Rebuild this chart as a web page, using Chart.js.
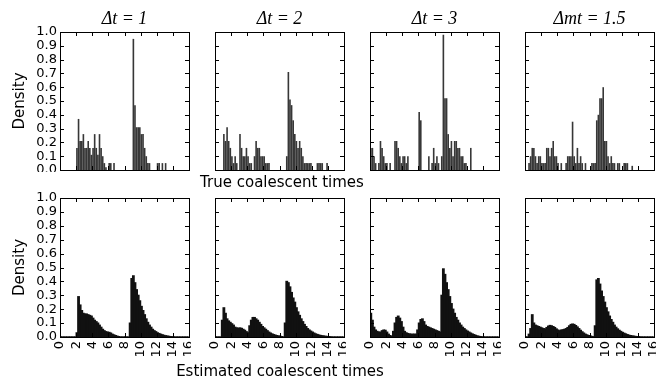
<!DOCTYPE html>
<html>
<head>
<meta charset="utf-8">
<script src="https://cdn.jsdelivr.net/npm/chart.js"></script>
<style>
  html, body { margin: 0; padding: 0; background: #fff; overflow: hidden; }
  #wrap { position: relative; width: 656px; height: 380px; }
  canvas { position: absolute; }
  .xlabel { position: absolute; font: 15px/15px "DejaVu Sans"; color: #000; white-space: nowrap; transform: translateX(-50%); }
</style>
</head>
<body>
<div id="wrap">
  <canvas id="t1"></canvas>
  <canvas id="t2"></canvas>
  <canvas id="t3"></canvas>
  <canvas id="t4"></canvas>
  <canvas id="b1"></canvas>
  <canvas id="b2"></canvas>
  <canvas id="b3"></canvas>
  <canvas id="b4"></canvas>
  <div class="xlabel" style="left:282px; top:175px">True coalescent times</div>
  <div class="xlabel" style="left:280px; top:364px">Estimated coalescent times</div>
</div>
<script>
// histogram bin centres (bin width 0.2)
const bins = [
  0.1, 0.3, 0.5, 0.7, 0.9, 1.1, 1.3, 1.5, 1.7, 1.9,
  2.1, 2.3, 2.5, 2.7, 2.9, 3.1, 3.3, 3.5, 3.7, 3.9,
  4.1, 4.3, 4.5, 4.7, 4.9, 5.1, 5.3, 5.5, 5.7, 5.9,
  6.1, 6.3, 6.5, 6.7, 6.9, 7.1, 7.3, 7.5, 7.7, 7.9,
  8.1, 8.3, 8.5, 8.7, 8.9, 9.1, 9.3, 9.5, 9.7, 9.9,
  10.1, 10.3, 10.5, 10.7, 10.9, 11.1, 11.3, 11.5, 11.7, 11.9,
  12.1, 12.3, 12.5, 12.7, 12.9, 13.1, 13.3, 13.5, 13.7, 13.9,
  14.1, 14.3, 14.5, 14.7, 14.9, 15.1, 15.3, 15.5, 15.7, 15.9
];

const titles = ['Δt = 1', 'Δt = 2', 'Δt = 3', 'Δmt = 1.5'];

// true coalescent times
const true1 = [
  0, 0, 0, 0, 0, 0, 0, 0, 0, 0,
  0.16, 0.37, 0.21, 0.21, 0.26, 0.16, 0.16, 0.21, 0.16, 0.11,
  0.16, 0.26, 0.16, 0.11, 0.26, 0.16, 0.10, 0.05, 0.02, 0,
  0.05, 0.05, 0, 0.05, 0, 0, 0, 0, 0, 0,
  0, 0, 0, 0, 0, 0.95, 0.47, 0.31, 0.31, 0.31,
  0.26, 0.26, 0.16, 0.10, 0.05, 0.05, 0, 0, 0, 0,
  0.05, 0.05, 0, 0.05, 0, 0.05, 0, 0, 0, 0,
  0, 0, 0, 0, 0, 0, 0, 0, 0, 0
];
const true2 = [
  0, 0, 0, 0, 0, 0.26, 0.21, 0.31, 0.21, 0.16,
  0.10, 0.05, 0.10, 0.05, 0, 0.26, 0.16, 0.10, 0.10, 0.16,
  0.10, 0.05, 0.05, 0, 0.10, 0.21, 0.16, 0.16, 0.10, 0.10,
  0.10, 0.05, 0.05, 0.05, 0, 0, 0, 0, 0, 0,
  0, 0, 0, 0, 0.10, 0.71, 0.51, 0.47, 0.36, 0.26,
  0.21, 0.16, 0.21, 0.16, 0.10, 0.05, 0.05, 0.05, 0.05, 0.05,
  0, 0, 0, 0.05, 0.05, 0.05, 0.05, 0, 0, 0.05,
  0, 0, 0, 0, 0, 0, 0, 0, 0, 0
];
const true3 = [
  0.16, 0.16, 0.10, 0.05, 0, 0.05, 0.21, 0.16, 0.10, 0.05,
  0.05, 0, 0.05, 0, 0, 0.21, 0.21, 0.16, 0.10, 0.05,
  0.10, 0.10, 0.05, 0.10, 0, 0, 0, 0, 0, 0,
  0.42, 0.36, 0, 0, 0, 0, 0.10, 0, 0.05, 0.16,
  0.05, 0.10, 0.05, 0, 0.10, 0.98, 0.52, 0.52, 0.26, 0.16,
  0.21, 0.10, 0.21, 0.21, 0.16, 0.16, 0.10, 0.10, 0.05, 0.05,
  0, 0, 0.16, 0, 0, 0, 0, 0, 0, 0,
  0, 0, 0, 0, 0, 0, 0, 0, 0, 0
];
const true4 = [
  0, 0, 0.05, 0.10, 0.16, 0.16, 0.10, 0.05, 0.10, 0.10,
  0.05, 0.05, 0.05, 0.16, 0.16, 0.10, 0.16, 0.21, 0.10, 0.10,
  0.05, 0, 0.05, 0, 0, 0.05, 0.10, 0.10, 0.10, 0.35,
  0.10, 0.05, 0.16, 0.05, 0.10, 0.05, 0, 0.05, 0, 0,
  0, 0.05, 0.05, 0.05, 0.36, 0.40, 0.52, 0.52, 0.60, 0.21,
  0.21, 0.10, 0.05, 0.10, 0.05, 0.05, 0, 0.05, 0.05, 0,
  0, 0.05, 0.05, 0.05, 0, 0, 0.03, 0, 0, 0,
  0, 0, 0, 0, 0, 0, 0, 0, 0, 0
];

// estimated coalescent times
const est1 = [
  0, 0, 0, 0, 0, 0, 0, 0, 0, 0,
  0.03, 0.29, 0.23, 0.19, 0.17, 0.165, 0.165, 0.16, 0.155, 0.15,
  0.135, 0.12, 0.11, 0.10, 0.085, 0.07, 0.055, 0.045, 0.038, 0.035,
  0.033, 0.028, 0.02, 0.015, 0.01, 0.006, 0.003, 0, 0, 0,
  0, 0, 0, 0.10, 0.42, 0.44, 0.39, 0.34, 0.30, 0.26,
  0.22, 0.19, 0.16, 0.13, 0.105, 0.085, 0.07, 0.055, 0.045, 0.038,
  0.03, 0.025, 0.02, 0.016, 0.012, 0.009, 0.007, 0.005, 0.003, 0.002,
  0, 0, 0, 0, 0, 0, 0, 0, 0, 0
];
const est2 = [
  0, 0, 0, 0, 0.12, 0.21, 0.17, 0.13, 0.115, 0.105,
  0.095, 0.085, 0.07, 0.065, 0.063, 0.065, 0.062, 0.055, 0.048, 0.038,
  0.03, 0.08, 0.12, 0.14, 0.14, 0.13, 0.12, 0.105, 0.09, 0.075,
  0.065, 0.055, 0.045, 0.035, 0.028, 0.022, 0.017, 0.013, 0.01, 0.007,
  0.005, 0.003, 0, 0.10, 0.40, 0.39, 0.36, 0.32, 0.28, 0.25,
  0.21, 0.18, 0.155, 0.13, 0.11, 0.09, 0.075, 0.06, 0.05, 0.042,
  0.035, 0.028, 0.022, 0.018, 0.014, 0.011, 0.009, 0.007, 0.005, 0.004,
  0.003, 0.002, 0, 0, 0, 0, 0, 0, 0, 0
];
const est3 = [
  0.17, 0.12, 0.07, 0.05, 0.04, 0.035, 0.035, 0.045, 0.05, 0.048,
  0.035, 0.02, 0.01, 0.005, 0.04, 0.10, 0.14, 0.15, 0.135, 0.11,
  0.07, 0.04, 0.03, 0.025, 0.022, 0.02, 0.02, 0.02, 0.02, 0.05,
  0.10, 0.125, 0.13, 0.11, 0.085, 0.075, 0.07, 0.065, 0.06, 0.055,
  0.05, 0.045, 0.04, 0.035, 0.30, 0.49, 0.45, 0.39, 0.34, 0.29,
  0.24, 0.20, 0.17, 0.14, 0.12, 0.10, 0.085, 0.07, 0.06, 0.05,
  0.042, 0.035, 0.028, 0.022, 0.017, 0.012, 0.008, 0.005, 0.003, 0.001,
  0, 0, 0, 0, 0, 0, 0, 0, 0, 0
];
const est4 = [
  0, 0, 0.02, 0.06, 0.16, 0.10, 0.085, 0.08, 0.075, 0.07,
  0.065, 0.06, 0.058, 0.068, 0.078, 0.083, 0.08, 0.075, 0.068, 0.058,
  0.05, 0.045, 0.05, 0.052, 0.055, 0.06, 0.068, 0.08, 0.09, 0.093,
  0.09, 0.082, 0.072, 0.06, 0.048, 0.037, 0.028, 0.02, 0.015, 0.01,
  0.007, 0.004, 0.002, 0.08, 0.41, 0.42, 0.38, 0.33, 0.29, 0.25,
  0.21, 0.18, 0.15, 0.125, 0.105, 0.085, 0.07, 0.058, 0.048, 0.04,
  0.033, 0.027, 0.022, 0.017, 0.013, 0.01, 0.008, 0.006, 0.004, 0.003,
  0.002, 0.001, 0, 0, 0, 0, 0, 0, 0, 0
];

Chart.defaults.font.family = '"DejaVu Sans", sans-serif';
Chart.defaults.font.size = 13;
Chart.defaults.color = '#000';

// box around the plot with inward ticks on all four sides
const frameTicks = {
  id: 'frameTicks',
  afterDatasetsDraw(chart) {
    const { ctx, chartArea: a, scales: { x, y } } = chart;
    ctx.save();
    ctx.strokeStyle = '#000';
    ctx.lineWidth = 1;
    ctx.beginPath();
    x.ticks.forEach(t => {
      const px = Math.round(x.getPixelForValue(t.value)) + 0.5;
      ctx.moveTo(px, a.bottom); ctx.lineTo(px, a.bottom - 4);
      ctx.moveTo(px, a.top); ctx.lineTo(px, a.top + 4);
    });
    y.ticks.forEach(t => {
      const py = Math.round(y.getPixelForValue(t.value)) + 0.5;
      ctx.moveTo(a.left, py); ctx.lineTo(a.left + 4, py);
      ctx.moveTo(a.right, py); ctx.lineTo(a.right - 4, py);
    });
    ctx.stroke();
    ctx.strokeRect(Math.round(a.left) + 0.5, Math.round(a.top) + 0.5, Math.round(a.width), Math.round(a.height));
    ctx.restore();
  }
};

function drawPanel(id, values, row, col) {
  const plotLeft = 60 + 155 * col;
  const plotW = 129;
  const yW = col === 0 ? 60 : 6;
  const canvas = document.getElementById(id);
  canvas.width = yW + plotW + 2;
  canvas.height = row === 0 ? 172 : 177;
  canvas.style.left = (plotLeft - yW) + 'px';
  canvas.style.top = (row === 0 ? 0 : 190) + 'px';

  new Chart(canvas, {
    type: 'bar',
    data: {
      labels: bins,
      datasets: [{
        data: values,
        backgroundColor: row === 0 ? 'rgba(20,20,20,0.85)' : '#111',
        borderWidth: 0,
        barPercentage: 1,
        categoryPercentage: 1,
        inflateAmount: row === 0 ? 0 : 0.6,
        grouped: false
      }]
    },
    options: {
      responsive: false,
      animation: false,
      events: [],
      layout: { padding: row === 0 ? { top: 0, right: 2, bottom: 2, left: 0 } : { top: 8, right: 2, bottom: 0, left: 0 } },
      plugins: {
        legend: { display: false },
        tooltip: { enabled: false },
        title: {
          display: row === 0,
          text: titles[col],
          fullSize: false,
          color: '#000',
          font: { family: '"Liberation Serif", serif', style: 'italic', weight: 'normal', size: 18, lineHeight: '20px' },
          padding: { top: 9, bottom: 3 }
        }
      },
      scales: {
        x: {
          type: 'linear',
          min: 0,
          max: 16,
          offset: false,
          grid: { display: false, drawTicks: false },
          border: { display: false },
          ticks: {
            display: row === 1,
            stepSize: 2,
            autoSkip: false,
            minRotation: 90,
            maxRotation: 90,
            padding: 4
          },
          afterFit(scale) {
            scale.height = row === 0 ? 0 : 30;
            scale.paddingLeft = 0;
            scale.paddingRight = 0;
          }
        },
        y: {
          min: 0,
          max: 1,
          grid: { display: false, drawTicks: false },
          border: { display: false },
          ticks: {
            display: col === 0,
            stepSize: 0.1,
            autoSkip: false,
            padding: 3,
            callback: v => v.toFixed(1)
          },
          title: {
            display: col === 0,
            text: 'Density',
            font: { size: 15 },
            padding: { top: 11, bottom: 0 }
          },
          afterFit(scale) {
            scale.width = yW;
            scale.paddingTop = 0;
            scale.paddingBottom = 0;
          }
        }
      }
    },
    plugins: [frameTicks]
  });
}

drawPanel('t1', true1, 0, 0);
drawPanel('t2', true2, 0, 1);
drawPanel('t3', true3, 0, 2);
drawPanel('t4', true4, 0, 3);
drawPanel('b1', est1, 1, 0);
drawPanel('b2', est2, 1, 1);
drawPanel('b3', est3, 1, 2);
drawPanel('b4', est4, 1, 3);
</script>
</body>
</html>
